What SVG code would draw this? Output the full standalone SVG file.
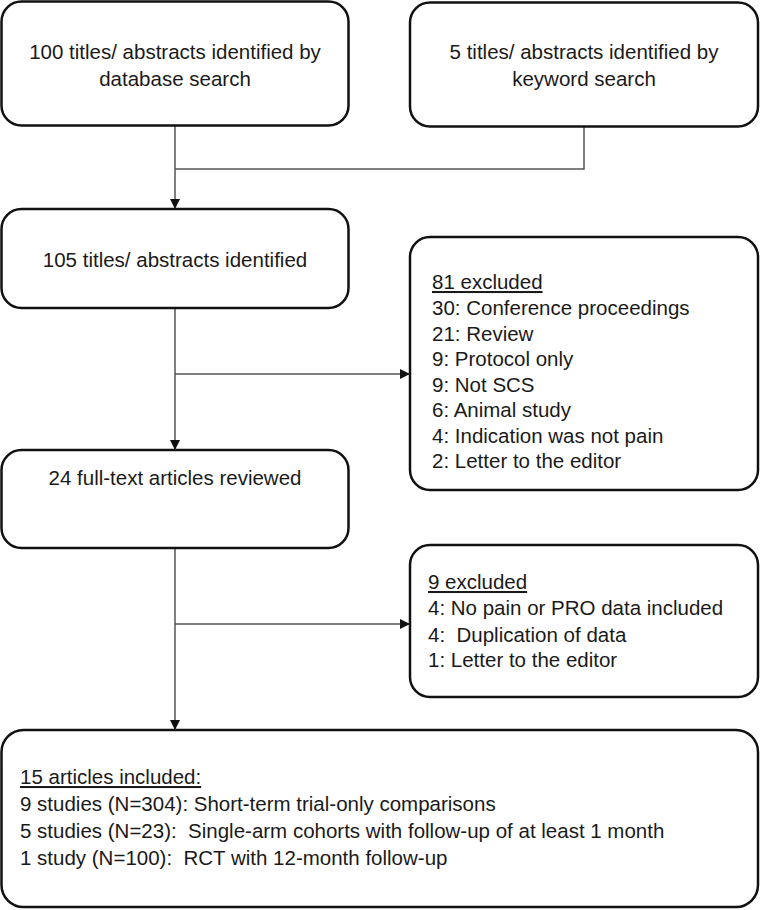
<svg xmlns="http://www.w3.org/2000/svg" width="760" height="910" viewBox="0 0 760 910">
<style>
.box{fill:#fff;stroke:#111;stroke-width:2.5}
.t{font-family:"Liberation Sans",Arial,sans-serif;font-size:20.5px;fill:#1a1a1a;white-space:pre}
.c{text-anchor:middle}
.u{text-decoration:underline}
.ln{fill:none;stroke:#555;stroke-width:1.5}
</style>
<defs>
<marker id="ah" viewBox="0 0 10 10" refX="10" refY="5" markerWidth="10" markerHeight="11" markerUnits="userSpaceOnUse" orient="auto">
<path d="M0,0 L10,5 L0,10 z" fill="#111"/>
</marker>
</defs>
<g id="connectors">
<path class="ln" d="M175,126 V209" marker-end="url(#ah)"/>
<path class="ln" d="M584,127 V169 H175"/>
<path class="ln" d="M175,308 V450" marker-end="url(#ah)"/>
<path class="ln" d="M175,374 H410" marker-end="url(#ah)"/>
<path class="ln" d="M175,548 V730" marker-end="url(#ah)"/>
<path class="ln" d="M175,624 H410" marker-end="url(#ah)"/>
</g>
<g id="n1">
<rect class="box" x="1.5" y="1.5" width="347" height="124" rx="20"/>
<text class="t c" x="175" y="59">100 titles/ abstracts identified by</text>
<text class="t c" x="175" y="86">database search</text>
</g>
<g id="n2">
<rect class="box" x="410" y="2.5" width="348" height="124" rx="20"/>
<text class="t c" x="584" y="59">5 titles/ abstracts identified by</text>
<text class="t c" x="584" y="86">keyword search</text>
</g>
<g id="n3">
<rect class="box" x="1.5" y="209" width="347" height="99" rx="20"/>
<text class="t c" x="175" y="267">105 titles/ abstracts identified</text>
</g>
<g id="n4">
<rect class="box" x="410" y="237" width="348" height="253" rx="20"/>
<text class="t u" x="432" y="289">81 excluded</text>
<text class="t" x="432" y="315">30: Conference proceedings</text>
<text class="t" x="432" y="341">21: Review</text>
<text class="t" x="432" y="366">9: Protocol only</text>
<text class="t" x="432" y="392">9: Not SCS</text>
<text class="t" x="432" y="417">6: Animal study</text>
<text class="t" x="432" y="443">4: Indication was not pain</text>
<text class="t" x="432" y="468">2: Letter to the editor</text>
</g>
<g id="n5">
<rect class="box" x="1.5" y="450" width="347" height="98" rx="20"/>
<text class="t c" x="175" y="485">24 full-text articles reviewed</text>
</g>
<g id="n6">
<rect class="box" x="410" y="545" width="348" height="152" rx="20"/>
<text class="t u" x="428" y="589">9 excluded</text>
<text class="t" x="428" y="615">4: No pain or PRO data included</text>
<text class="t" x="428" y="642">4:  Duplication of data</text>
<text class="t" x="428" y="667">1: Letter to the editor</text>
</g>
<g id="n7">
<rect class="box" x="1.5" y="730" width="756.5" height="177" rx="22"/>
<text class="t u" x="20" y="784">15 articles included:</text>
<text class="t" x="20" y="811">9 studies (N=304): Short-term trial-only comparisons</text>
<text class="t" x="20" y="838">5 studies (N=23):  Single-arm cohorts with follow-up of at least 1 month</text>
<text class="t" x="20" y="865">1 study (N=100):  RCT with 12-month follow-up</text>
</g>
</svg>
